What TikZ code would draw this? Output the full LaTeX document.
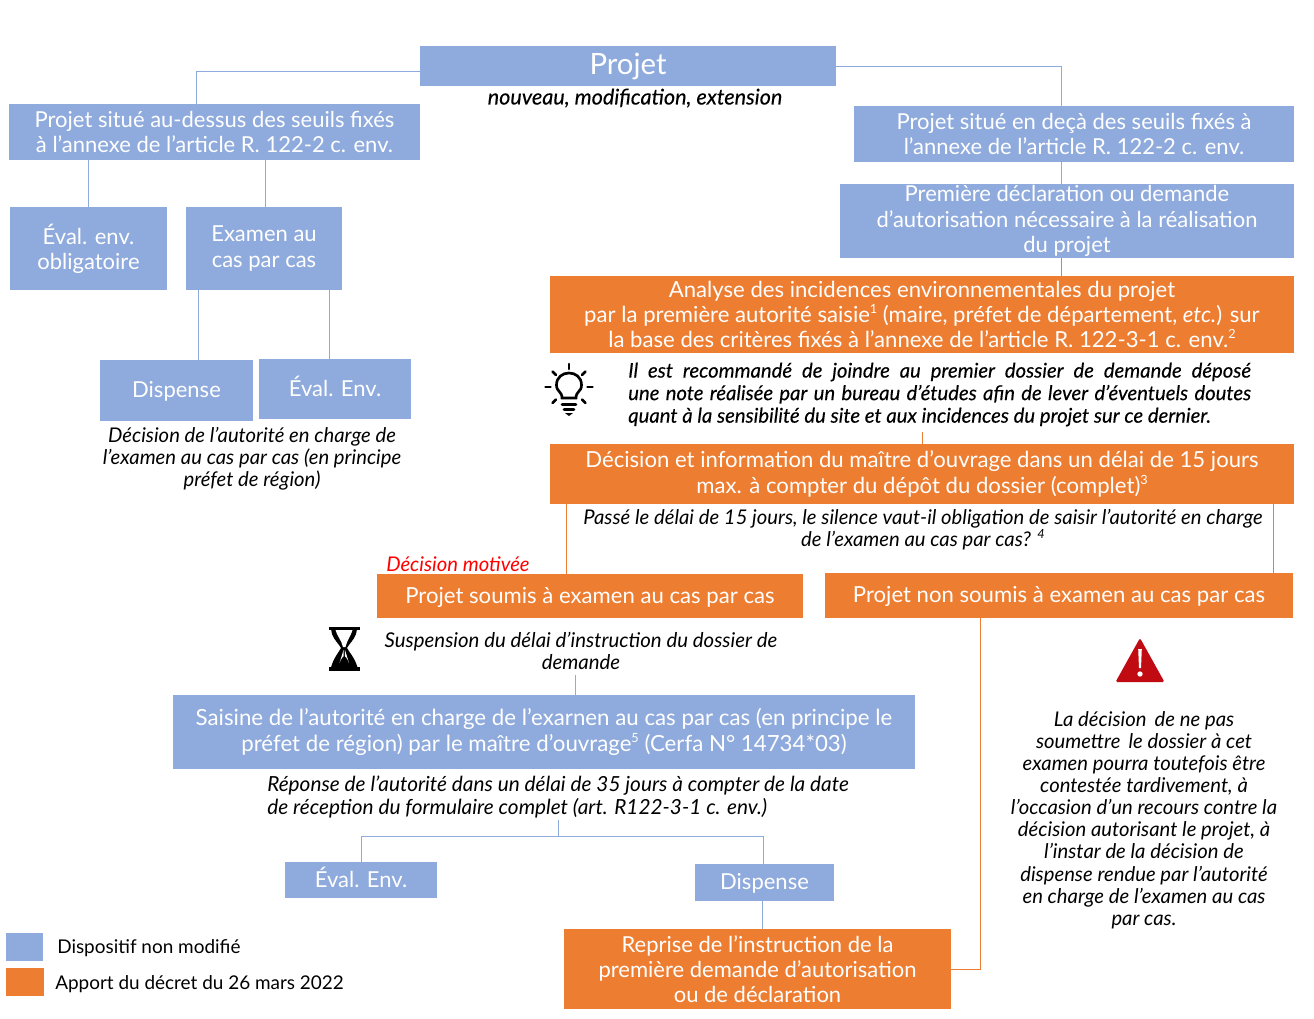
\documentclass[tikz,border=0pt]{standalone}
\usepackage{fontspec}
\setmainfont{Lato}
\definecolor{bleu}{HTML}{8FAADC}
\definecolor{orng}{HTML}{ED7D31}
\definecolor{rouge}{HTML}{C00B12}
\newcommand{\supr}[1]{\raisebox{0.42em}{\fontsize{9.5}{9.5}\selectfont #1}}
\newcommand{\mybox}[7]{% name,x1,y1,x2,y2,style,text
  \pgfmathsetmacro{\bw}{(#4-#2)*0.75}\pgfmathsetmacro{\bh}{(#5-#3)*0.75}
  \node[#6,minimum width=\bw pt,minimum height=\bh pt] (#1) at ({(#2+#4)/2},{(#3+#5)/2}) {#7};}
\tikzset{x=0.75pt,y=-0.75pt,
  bbox/.style={fill=bleu,text=white,inner sep=0pt,align=center,font=\fontsize{16.5}{18.9}\selectfont},
  obox/.style={fill=orng,text=white,inner sep=0pt,align=center,font=\fontsize{16.5}{18.9}\selectfont},
  single/.style={text height=12.5pt,text depth=2pt},
  note/.style={inner sep=0pt,align=center,font=\itshape\fontsize{15.2}{16.6}\selectfont},
  bl/.style={draw=bleu,line width=0.6pt},
  ol/.style={draw=orng,line width=0.6pt}}
\begin{document}
\begin{tikzpicture}
\useasboundingbox (0,0) rectangle (1314,1018);
\mybox{projet}{420}{46}{836}{86}{bbox,font=\fontsize{22}{24}\selectfont}{Projet}
\mybox{haut}{9}{104}{420}{160}{bbox}{Projet situé au-dessus des seuils fixés\\à l’annexe de l’article R. 122-2 c. env.}
\mybox{bas}{854}{106}{1294}{162}{bbox}{Projet situé en deçà des seuils fixés à\\l’annexe de l’article R. 122-2 c. env.}
\mybox{prem}{840}{184}{1294}{258}{bbox}{Première déclaration ou demande\\d’autorisation nécessaire à la réalisation\\du projet}
\mybox{oblig}{10}{207}{167}{290}{bbox}{Éval. env.\\obligatoire}
\mybox{examen}{186}{207}{342}{290}{bbox}{Examen au\\cas par cas}
\mybox{disp}{100}{360}{253}{421}{bbox,single}{Dispense}
\mybox{evalA}{259}{359}{411}{419}{bbox,single}{Éval. Env.}
\mybox{analyse}{550}{276}{1294}{353}{obox,font=\fontsize{16.6}{18.9}\selectfont}{Analyse des incidences environnementales du projet\\par la première autorité saisie\supr{1} (maire, préfet de département, \textit{etc.}) sur\\la base des critères fixés à l’annexe de l’article R. 122-3-1 c. env.\supr{2}}
\mybox{decis}{550}{444}{1294}{504}{obox,font=\fontsize{16.6}{19.5}\selectfont}{Décision et information du maître d’ouvrage dans un délai de 15 jours\\max. à compter du dépôt du dossier (complet)\supr{3}}
\mybox{soumis}{377}{574}{803}{618}{obox,single,font=\fontsize{16.6}{18.9}\selectfont}{Projet soumis à examen au cas par cas}
\mybox{nonsoumis}{825}{573}{1293}{618}{obox,single,font=\fontsize{16.6}{18.9}\selectfont}{Projet non soumis à examen au cas par cas}
\mybox{saisine}{173}{695}{915}{769}{bbox,font=\fontsize{16.7}{19.5}\selectfont}{Saisine de l’autorité en charge de l’exarnen au cas par cas (en principe le\\préfet de région) par le maître d’ouvrage\supr{5} (Cerfa N° 14734*03)}
\mybox{evalB}{285}{862}{437}{898}{bbox,single}{Éval. Env.}
\mybox{dispB}{695}{864}{834}{901}{bbox,single}{Dispense}
\mybox{reprise}{564}{929}{951}{1009}{obox}{Reprise de l’instruction de la\\première demande d’autorisation\\ou de déclaration}
\mybox{legA}{6}{933}{43}{961}{bbox}{}
\mybox{legB}{6}{968}{44}{996}{obox}{}
% texts
\node[note,font=\itshape\fontsize{16.2}{17}\selectfont\addfontfeature{FakeBold=0.25}] (t1) at (635,98) {nouveau, modification, extension};
\node[note] (t2) at (252,459) {Décision de l’autorité en charge de\\l’examen au cas par cas (en principe\\préfet de région)};
\node[note,anchor=west,align=left,font=\itshape\fontsize{15.2}{16.9}\selectfont\addfontfeature{FakeBold=0.25}] (t3) at (628,394.5) {\makebox[467pt][s]{Il est recommandé de joindre au premier dossier de demande déposé}\\\makebox[467pt][s]{une note réalisée par un bureau d’études afin de lever d’éventuels doutes}\\quant à la sensibilité du site et aux incidences du projet sur ce dernier.};
\node[note] (t4) at (923,530) {Passé le délai de 15 jours, le silence vaut-il obligation de saisir l’autorité en charge\\de l’examen au cas par cas? \supr{4}};
\node[note,text=red,anchor=west,font=\itshape\fontsize{15.2}{17}\selectfont] (t5) at (386,564) {Décision motivée};
\node[note,font=\itshape\fontsize{15.3}{16.6}\selectfont] (t6) at (581,651) {Suspension du délai d’instruction du dossier de\\demande};
\node[note,align=left,anchor=west,font=\itshape\fontsize{15.6}{16.6}\selectfont] (t7) at (267,797) {Réponse de l’autorité dans un délai de 35 jours à compter de la date\\de réception du formulaire complet (art. R122-3-1 c. env.)};
\node[note] (t8) at (1144,820) {La décision\, de ne pas\\soumettre\, le dossier à cet\\examen pourra toutefois être\\contestée tardivement, à\\l’occasion d’un recours contre la\\décision autorisant le projet, à\\l’instar de la décision de\\dispense rendue par l’autorité\\en charge de l’examen au cas\\par cas.};
\node[inner sep=0pt,anchor=west,font=\fontsize{14.2}{17}\selectfont] (l1) at (57,948) {Dispositif non modifié};
\node[inner sep=0pt,anchor=west,font=\fontsize{14.2}{17}\selectfont] (l2) at (55,984) {Apport du décret du 26 mars 2022};
% coordinates for free ends
\coordinate (a1) at (196,71); \coordinate (a2) at (1061,66); \coordinate (j) at (558,836);
% connectors
\draw[bl] (a1 -| projet.west) -- (a1) -- (a1 |- haut.north);
\draw[bl] (a2 -| projet.east) -- (a2) -- (a2 |- bas.north);
\coordinate (c1) at (88,0); \coordinate (c2) at (265,0); \coordinate (c3) at (198,0); \coordinate (c4) at (329,0);
\draw[bl] (c1 |- haut.south) -- (c1 |- oblig.north);
\draw[bl] (c2 |- haut.south) -- (c2 |- examen.north);
\draw[bl] (c3 |- examen.south) -- (c3 |- disp.north);
\draw[bl] (c4 |- examen.south) -- (c4 |- evalA.north);
\coordinate (c5) at (1061,0); \coordinate (c6) at (922,432); \coordinate (c7) at (566,0); \coordinate (c8) at (1273,0);
\draw[bl] (c5 |- bas.south) -- (c5 |- prem.north);
\draw[ol] (c5 |- prem.south) -- (c5 |- analyse.north);
\draw[ol,line width=0.4pt] (c6) -- (c6 |- decis.north);
\draw[ol] (c7 |- decis.south) -- (c7 |- soumis.north);
\draw[ol] (c8 |- decis.south) -- (c8 |- nonsoumis.north);
\coordinate (c9) at (575,675);
\draw[bl] (c9) -- (c9 |- saisine.north);
\coordinate (c10) at (558,820);
\draw[bl] (c10) -- (j);
\coordinate (c11) at (361,836); \coordinate (c12) at (763,836);
\draw[bl] (c11 |- evalB.north) -- (c11) -- (c12) -- (c12 |- dispB.north);
\coordinate (c13) at (762,0);
\draw[bl] (c13 |- dispB.south) -- (c13 |- reprise.north);
\coordinate (c14) at (980,969);
\draw[ol] (c14 -| reprise.east) -- (c14) -- (c14 |- nonsoumis.south);
% bulb icon
\begin{scope}[line width=2pt,line cap=round,black]
\draw (562,398) .. controls (562,391) and (556.5,392) .. (556.5,385) .. controls (556.5,369) and (581.5,369) .. (581.5,385) .. controls (581.5,392) and (576,391) .. (576,398) -- cycle;
\draw (562,404.5) -- (576,404.5);
\draw (564,409.5) -- (574,409.5);
\fill (565,413) -- (573,413) -- (569,416) -- cycle;
\draw (569,364) -- (569,369);
\draw (545.5,387) -- (550.5,387);
\draw (587.5,387) -- (592.5,387);
\draw (552.5,371.5) -- (556,375);
\draw (585.5,371.5) -- (582,375);
\draw (552.5,403) -- (556,399.5);
\draw (585.5,403) -- (582,399.5);
\end{scope}
% hourglass icon
\fill[black] (329,626.5) rectangle (359.5,630);
\fill[black] (329,666.5) rectangle (359.5,670.5);
\fill[black] (331,629) -- (357,629) -- (356,634) .. controls (354,640) and (349,644) .. (347,648) .. controls (349,652) and (355,658) .. (357.5,667.5) -- (331,667.5) .. controls (333.5,658) and (339,652) .. (341,648) .. controls (339,644) and (334,640) .. (332,634) -- cycle;
\fill[white] (335.5,630) -- (352.5,630) .. controls (351,636) and (347,640) .. (345.5,647) -- (343,647) .. controls (341.5,640) and (337,636) .. (335.5,630) -- cycle;
\fill[white] (343.5,650) -- (339.5,663) .. controls (341,659) and (342.5,657) .. (343.7,656) -- cycle;
\fill[white] (345,650) -- (349,663) .. controls (347.5,659) and (346,657) .. (344.8,656) -- cycle;
% warning icon
\fill[rouge,rounded corners=1.2pt] (1140,638) -- (1164.5,682) -- (1115.5,682) -- cycle;
\fill[white] (1138.2,649) -- (1141.8,649) -- (1141,668) -- (1139,668) -- cycle;
\fill[white] (1140,674) circle[radius=2pt];
\end{tikzpicture}
\end{document}
